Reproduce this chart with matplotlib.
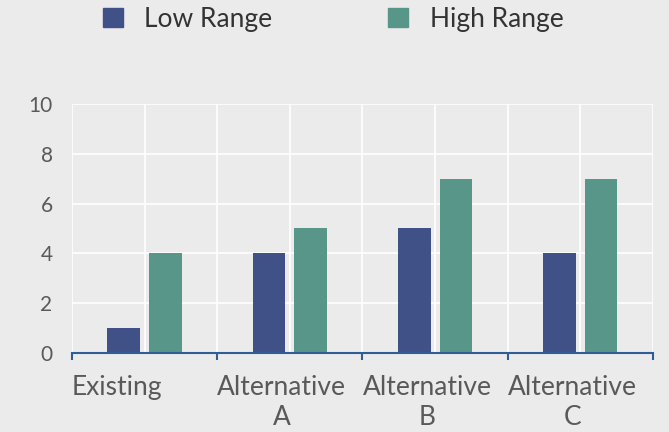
import matplotlib.pyplot as plt
import matplotlib.transforms as mtransforms
import numpy as np
from matplotlib.patches import Patch

# chart data
categories = ["Existing", "Alternative\nA", "Alternative\nB", "Alternative\nC"]
low_range = [1, 4, 5, 4]
high_range = [4, 5, 7, 7]
series_names = ["Low Range", "High Range"]

low_color = "#3F5186"
high_color = "#58968A"
bg = "#EBEBEB"
axis_blue = "#2F5D96"
text_grey = "#595959"

plt.rcParams['font.family'] = ['Lato', 'DejaVu Sans']

fig = plt.figure(figsize=(6.69, 4.32), dpi=100, facecolor=bg)
ax = fig.add_axes([0.1076, 0.1829, 0.8684, 0.5764], facecolor=bg)

x = np.arange(len(categories))
w = 0.225
off = 0.143
ax.bar(x - off, low_range, w, color=low_color, zorder=3)
ax.bar(x + off, high_range, w, color=high_color, zorder=3)

ax.set_xlim(-0.5, len(categories) - 0.5)
ax.set_ylim(0, 10)
ax.set_yticks(range(0, 11, 2))

# no major labels on x; category names drawn from each left boundary
ax.set_xticks([])
ax.set_xticks(np.arange(-0.5, len(categories), 1.0), minor=True)
ax.tick_params(axis='x', which='minor', length=5, width=1.5, color=axis_blue, direction='out')
ax.tick_params(axis='y', length=0, pad=14, labelsize=15, labelcolor=text_grey)

lbl_trans = mtransforms.offset_copy(ax.get_xaxis_transform(), fig=fig, x=0, y=-16, units='points')
for i, name in enumerate(categories):
    ax.text(i - 0.5, 0, name, transform=lbl_trans, ha='left', va='top',
            multialignment='center', fontsize=19, color=text_grey, linespacing=1.25)

# white grid: horizontal at ticks, vertical every half category
for yv in range(0, 11, 2):
    ax.axhline(yv, color='white', lw=1.2, zorder=1)
for xv in np.arange(-0.5, len(categories), 0.5):
    ax.axvline(xv, color='white', lw=1.2, zorder=1)

for s in ['top', 'right', 'left']:
    ax.spines[s].set_visible(False)
ax.spines['bottom'].set_color(axis_blue)
ax.spines['bottom'].set_linewidth(1.5)
ax.spines['bottom'].set_zorder(4)

handles = [Patch(color=low_color), Patch(color=high_color)]
fig.legend(handles, series_names, loc='center left', bbox_to_anchor=(0.154, 0.955),
           ncol=2, frameon=False, fontsize=19, handlelength=0.76, handleheight=0.76,
           handletextpad=0.8, columnspacing=4.4, borderpad=0, borderaxespad=0,
           labelcolor='#333333')

fig.savefig("out.png", dpi=100, facecolor=bg)
